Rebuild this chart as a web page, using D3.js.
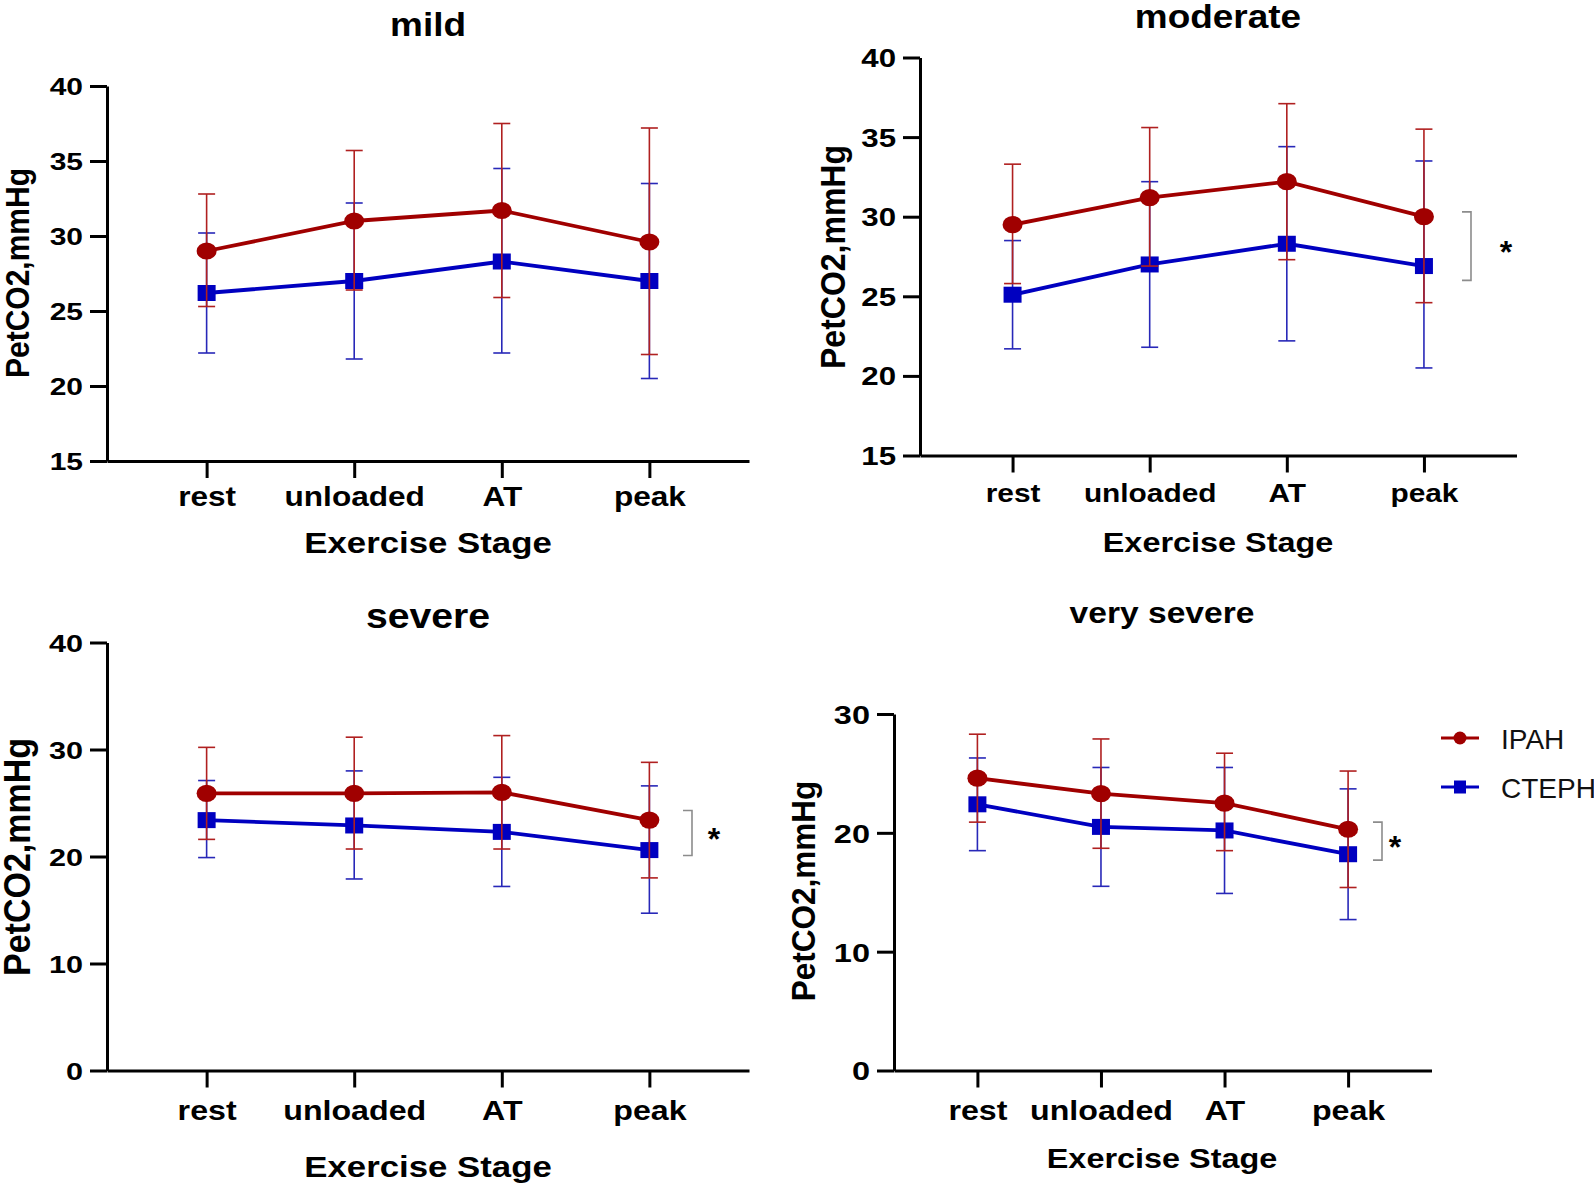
<!DOCTYPE html>
<html>
<head>
<meta charset="utf-8">
<script src="https://cdn.jsdelivr.net/npm/d3@7"></script>
<style>
  html, body { margin: 0; padding: 0; background: #fff; }
  svg { display: block; }
</style>
</head>
<body>
<svg id="chart" width="1594" height="1185"></svg>
<script>
// ---------------- DATA ----------------
const stages = ["rest", "unloaded", "AT", "peak"];
const panelTitles = ["mild", "moderate", "severe", "very severe"];
const groups = ["IPAH", "CTEPH"];
const xLabel = "Exercise Stage";
const yLabel = "PetCO2,mmHg";

// y-axis ticks
const ticksMild = [15, 20, 25, 30, 35, 40];
const ticksModerate = [15, 20, 25, 30, 35, 40];
const ticksSevere = [0, 10, 20, 30, 40];
const ticksVerySevere = [0, 10, 20, 30];

// mild
const mildIPAH = [29.0, 31.0, 31.7, 29.6];
const mildIPAHHi = [32.8, 35.7, 37.5, 37.2];
const mildIPAHLo = [25.3, 26.4, 25.9, 22.1];
const mildCTEPH = [26.2, 27.0, 28.3, 27.0];
const mildCTEPHHi = [30.2, 32.2, 34.5, 33.5];
const mildCTEPHLo = [22.2, 21.8, 22.2, 20.5];

// moderate
const moderateIPAH = [29.5, 31.2, 32.2, 30.0];
const moderateIPAHHi = [33.3, 35.6, 37.1, 35.5];
const moderateIPAHLo = [25.8, 26.9, 27.3, 24.6];
const moderateCTEPH = [25.1, 27.0, 28.3, 26.9];
const moderateCTEPHHi = [28.5, 32.2, 34.4, 33.5];
const moderateCTEPHLo = [21.7, 21.8, 22.2, 20.5];

// severe
const severeIPAH = [25.9, 25.9, 26.0, 23.4];
const severeIPAHHi = [30.2, 31.15, 31.3, 28.8];
const severeIPAHLo = [21.6, 20.7, 20.7, 18.0];
const severeCTEPH = [23.4, 22.9, 22.3, 20.6];
const severeCTEPHHi = [27.1, 28.0, 27.4, 26.6];
const severeCTEPHLo = [19.9, 17.9, 17.2, 14.7];

// very severe
const verySevereIPAH = [24.6, 23.3, 22.5, 20.3];
const verySevereIPAHHi = [28.3, 27.9, 26.7, 25.2];
const verySevereIPAHLo = [20.9, 18.7, 18.5, 15.4];
const verySevereCTEPH = [22.4, 20.5, 20.2, 18.2];
const verySevereCTEPHHi = [26.3, 25.5, 25.5, 23.7];
const verySevereCTEPHLo = [18.5, 15.5, 14.9, 12.7];

// significance brackets [low, high] (data units), null = none
const bracketMild = null;
const bracketModerate = [26.0, 30.3];
const bracketSevere = [20.1, 24.3];
const bracketVerySevere = [17.7, 20.9];
const sigMark = "*";

// ---------------- STYLE / LAYOUT ----------------
const FONT = "'Liberation Sans', Arial, Helvetica, sans-serif";
const colIPAH = "#a00000", errIPAH = "#b02020";
const colCTEPH = "#0000c0", errCTEPH = "#2828b8";
const SX = 1.17; // horizontal stretch of the original figure text

const panels = [
  { title: panelTitles[0], ticks: ticksMild, dom: [15, 40],
    ipah: [mildIPAH, mildIPAHLo, mildIPAHHi], cteph: [mildCTEPH, mildCTEPHLo, mildCTEPHHi], bracket: bracketMild,
    L: { x0: 107, x1: 749, yTop: 86, yBot: 461, tX: 428, tY: 36, tSize: 33,
         xlY: 553, xlSize: 29, xlSX: 1.2, tickSize: 27, tickBase: 45, ynSize: 24,
         ylX: 29, ylY: 273, ylSize: 30 } },
  { title: panelTitles[1], ticks: ticksModerate, dom: [15, 40],
    ipah: [moderateIPAH, moderateIPAHLo, moderateIPAHHi], cteph: [moderateCTEPH, moderateCTEPHLo, moderateCTEPHHi], bracket: bracketModerate,
    L: { x0: 920, x1: 1516.5, yTop: 57.5, yBot: 455.5, tX: 1218, tY: 28, tSize: 33,
         xlY: 552, xlSize: 27, xlSX: 1.2, tickSize: 25.5, tickBase: 46.5, ynSize: 25,
         ylX: 845, ylY: 257, ylSize: 32, brX: 1471, starX: 1506 } },
  { title: panelTitles[2], ticks: ticksSevere, dom: [0, 40],
    ipah: [severeIPAH, severeIPAHLo, severeIPAHHi], cteph: [severeCTEPH, severeCTEPHLo, severeCTEPHHi], bracket: bracketSevere,
    L: { x0: 107, x1: 749, yTop: 642.5, yBot: 1070.5, tX: 428, tY: 628, tSize: 35,
         xlY: 1177, xlSize: 29, xlSX: 1.2, tickSize: 27.5, tickBase: 50, ynSize: 24.5,
         ylX: 30, ylY: 857, ylSize: 34, brX: 692, starX: 714 } },
  { title: panelTitles[3], ticks: ticksVerySevere, dom: [0, 30],
    ipah: [verySevereIPAH, verySevereIPAHLo, verySevereIPAHHi], cteph: [verySevereCTEPH, verySevereCTEPHLo, verySevereCTEPHHi], bracket: bracketVerySevere,
    L: { x0: 894, x1: 1431.5, yTop: 714, yBot: 1070.5, tX: 1162, tY: 623, tSize: 30,
         xlY: 1168, xlSize: 27, xlSX: 1.2, tickSize: 27.5, tickBase: 49.5, ynSize: 26,
         ylX: 815, ylY: 891, ylSize: 31.5, brX: 1382, starX: 1395 } }
];

const svg = d3.select("#chart");

panels.forEach(p => {
  const L = p.L;
  const g = svg.append("g");
  const x = d3.scalePoint().domain(stages).range([L.x0, L.x1]).padding(0.675);
  const y = d3.scaleLinear().domain(p.dom).range([L.yBot, L.yTop]);

  // y axis
  const ya = g.append("g").attr("transform", `translate(${L.x0},0)`)
    .call(d3.axisLeft(y).tickValues(p.ticks).tickSize(17).tickSizeOuter(0).tickPadding(7).tickFormat(d3.format("d")));
  // x axis
  const xa = g.append("g").attr("transform", `translate(0,${L.yBot})`)
    .call(d3.axisBottom(x).tickSize(17).tickSizeOuter(0));

  [ya, xa].forEach(a => {
    a.select(".domain").attr("stroke", "#000").attr("stroke-width", 3);
    a.selectAll(".tick line").attr("stroke", "#000").attr("stroke-width", 3);
  });
  ya.selectAll(".tick text")
    .attr("font-family", FONT).attr("font-weight", "bold").attr("font-size", L.ynSize)
    .attr("fill", "#000").attr("x", -24 / 1.25).attr("dy", "0.36em")
    .attr("transform", "scale(1.25,1)");
  xa.selectAll(".tick text")
    .attr("font-family", FONT).attr("font-weight", "bold").attr("font-size", L.tickSize)
    .attr("fill", "#000").attr("y", L.tickBase).attr("dy", 0)
    .attr("transform", `scale(${SX},1)`);

  // title
  g.append("text").attr("transform", `translate(${L.tX},${L.tY}) scale(1.12,1)`)
    .attr("text-anchor", "middle").attr("font-family", FONT).attr("font-weight", "bold")
    .attr("font-size", L.tSize).text(p.title);
  // x label
  g.append("text").attr("transform", `translate(${L.tX},${L.xlY}) scale(${L.xlSX},1)`)
    .attr("text-anchor", "middle").attr("font-family", FONT).attr("font-weight", "bold")
    .attr("font-size", L.xlSize).text(xLabel);
  // y label
  g.append("text").attr("transform", `translate(${L.ylX},${L.ylY}) rotate(-90) scale(1,1.08)`)
    .attr("text-anchor", "middle").attr("font-family", FONT).attr("font-weight", "bold")
    .attr("font-size", L.ylSize).text(yLabel);

  // series: CTEPH first, IPAH on top
  const series = [
    { vals: p.cteph, col: colCTEPH, err: errCTEPH, shape: "square" },
    { vals: p.ipah, col: colIPAH, err: errIPAH, shape: "circle" }
  ];
  series.forEach(s => {
    const [mean, lo, hi] = s.vals;
    const pts = stages.map((st, i) => ({ st, m: mean[i], lo: lo[i], hi: hi[i] }));
    const eg = g.append("g").attr("stroke", s.err).attr("stroke-width", 1.6).attr("fill", "none");
    eg.selectAll("line.v").data(pts).join("line")
      .attr("x1", d => x(d.st)).attr("x2", d => x(d.st))
      .attr("y1", d => y(d.lo)).attr("y2", d => y(d.hi));
    eg.selectAll("line.h").data(pts.flatMap(d => [d.lo, d.hi].map(v => ({ st: d.st, v })))).join("line")
      .attr("x1", d => x(d.st) - 8.5).attr("x2", d => x(d.st) + 8.5)
      .attr("y1", d => y(d.v)).attr("y2", d => y(d.v));

    g.append("path").datum(pts)
      .attr("fill", "none").attr("stroke", s.col).attr("stroke-width", 3.8)
      .attr("d", d3.line().x(d => x(d.st)).y(d => y(d.m)));

    if (s.shape === "circle") {
      g.selectAll(null).data(pts).join("ellipse")
        .attr("cx", d => x(d.st)).attr("cy", d => y(d.m))
        .attr("rx", 10).attr("ry", 8.6).attr("fill", s.col);
    } else {
      g.selectAll(null).data(pts).join("rect")
        .attr("x", d => x(d.st) - 9).attr("y", d => y(d.m) - 8)
        .attr("width", 18).attr("height", 16).attr("fill", s.col);
    }
  });

  // significance bracket
  if (p.bracket) {
    const [b0, b1] = p.bracket;
    g.append("path")
      .attr("d", `M${L.brX - 9},${y(b1)}H${L.brX}V${y(b0)}H${L.brX - 9}`)
      .attr("fill", "none").attr("stroke", "#8c8c8c").attr("stroke-width", 1.6);
    g.append("text").attr("x", L.starX).attr("y", (y(b0) + y(b1)) / 2 + 17)
      .attr("text-anchor", "middle").attr("font-family", FONT).attr("font-weight", "bold")
      .attr("font-size", 32).text(sigMark);
  }
});

// legend
const legend = svg.append("g");
const legendItems = [
  { name: groups[0], col: colIPAH, shape: "circle", y: 738 },
  { name: groups[1], col: colCTEPH, shape: "square", y: 787 }
];
legendItems.forEach(it => {
  legend.append("line").attr("x1", 1441).attr("x2", 1479).attr("y1", it.y).attr("y2", it.y)
    .attr("stroke", it.col).attr("stroke-width", 3);
  if (it.shape === "circle") {
    legend.append("circle").attr("cx", 1460).attr("cy", it.y).attr("r", 6.5).attr("fill", it.col);
  } else {
    legend.append("rect").attr("x", 1454).attr("y", it.y - 6.5).attr("width", 12).attr("height", 13).attr("fill", it.col);
  }
  legend.append("text").attr("x", 1501).attr("y", it.y + 10.5)
    .attr("font-family", FONT).attr("font-size", 28).attr("fill", "#111").text(it.name);
});
</script>
</body>
</html>
